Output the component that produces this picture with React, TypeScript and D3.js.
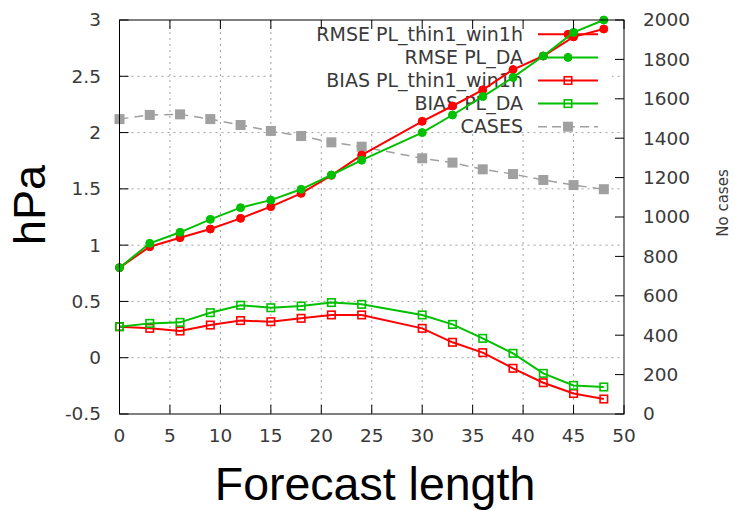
import React from "react";
import * as d3 from "d3";

const leadTimes = [0, 3, 6, 9, 12, 15, 18, 21, 24, 30, 33, 36, 39, 42, 45, 48];
const rmseThin = [0.8, 0.986, 1.066, 1.143, 1.238, 1.342, 1.46, 1.62, 1.8, 2.1, 2.236, 2.38, 2.56, 2.68, 2.85, 2.92];
const rmseDA = [0.8, 1.016, 1.114, 1.229, 1.333, 1.4, 1.496, 1.623, 1.755, 2.0, 2.156, 2.32, 2.49, 2.68, 2.89, 3.0];
const biasThin = [0.276, 0.261, 0.237, 0.29, 0.33, 0.32, 0.35, 0.38, 0.38, 0.261, 0.137, 0.045, -0.094, -0.222, -0.318, -0.367];
const biasDA = [0.276, 0.305, 0.314, 0.4, 0.466, 0.444, 0.459, 0.49, 0.474, 0.38, 0.296, 0.172, 0.039, -0.139, -0.246, -0.26];
const cases = [1497, 1518, 1521, 1497, 1467, 1437, 1411, 1379, 1357, 1298, 1276, 1242, 1218, 1188, 1162, 1141];

const xTicks = [0, 5, 10, 15, 20, 25, 30, 35, 40, 45, 50];
const yTicks = [-0.5, 0, 0.5, 1, 1.5, 2, 2.5, 3];
const y2Ticks = [0, 200, 400, 600, 800, 1000, 1200, 1400, 1600, 1800, 2000];

const legendLabels = ["RMSE PL_thin1_win1h", "RMSE PL_DA", "BIAS PL_thin1_win1h", "BIAS PL_DA", "CASES"];

const RED = "#ff0000";
const GREEN = "#00c000";
const GRAY = "#a0a0a0";
const TXT = "#3a3a3a";
const TICKFONT = "'DejaVu Sans', sans-serif";
const TITLEFONT = "'Liberation Sans', Arial, sans-serif";

export default function App() {
  const L = 119.5, R = 624, T = 20, B = 414;
  const x = d3.scaleLinear().domain([0, 50]).range([L, R]);
  const y = d3.scaleLinear().domain([-0.5, 3]).range([B, T]);
  const y2 = d3.scaleLinear().domain([0, 2000]).range([B, T]);
  const tl = 9;

  const line = (vals: number[], sc: d3.ScaleLinear<number, number>) =>
    d3.line<number>().x((_, i) => x(leadTimes[i])).y((v) => sc(v))(vals) || "";

  const circle = (cx: number, cy: number, color: string, k: string) => (
    <circle key={k} cx={cx} cy={cy} r={4} fill={color} stroke={color} strokeWidth={1} />
  );
  const square = (cx: number, cy: number, color: string, k: string) => (
    <rect key={k} x={cx - 3.75} y={cy - 3.75} width={7.5} height={7.5} fill="none" stroke={color} strokeWidth={1.6} />
  );
  const gsquare = (cx: number, cy: number, k: string) => (
    <rect key={k} x={cx - 5} y={cy - 5} width={10} height={10} fill={GRAY} />
  );

  const rowY = (i: number) => 34.3 + i * 23.1;
  const sx1 = 538, sx2 = 598, textR = 523;

  return (
    <svg width={734} height={510} style={{ position: "absolute", left: 0, top: 0, background: "#fff" }}>
      {/* grid */}
      <g stroke="#a0a0a0" strokeWidth={1} strokeDasharray="2,4">
        {xTicks.slice(1, -1).map((t) => (
          <line key={"gx" + t} x1={x(t)} x2={x(t)} y1={T} y2={B} />
        ))}
        {yTicks.slice(1, -1).map((t) => (
          <line key={"gy" + t} x1={L} x2={R} y1={y(t)} y2={y(t)} />
        ))}
      </g>

      {/* opaque legend box */}
      <rect x={275} y={T + 1} width={337} height={110} fill="#fff" />

      {/* legend */}
      <g fontFamily={TICKFONT} fontSize={19} fill={TXT}>
        {legendLabels.map((lab, i) => (
          <text key={lab} x={textR} y={rowY(i)} dy="0.35em" textAnchor="end">{lab}</text>
        ))}
      </g>
      <g>
        <line x1={sx1} x2={sx2} y1={rowY(0)} y2={rowY(0)} stroke={RED} strokeWidth={2} />
        {circle((sx1 + sx2) / 2, rowY(0), RED, "l0")}
        <line x1={sx1} x2={sx2} y1={rowY(1)} y2={rowY(1)} stroke={GREEN} strokeWidth={2} />
        {circle((sx1 + sx2) / 2, rowY(1), GREEN, "l1")}
        <line x1={sx1} x2={sx2} y1={rowY(2)} y2={rowY(2)} stroke={RED} strokeWidth={2} />
        {square((sx1 + sx2) / 2, rowY(2), RED, "l2")}
        <line x1={sx1} x2={sx2} y1={rowY(3)} y2={rowY(3)} stroke={GREEN} strokeWidth={2} />
        {square((sx1 + sx2) / 2, rowY(3), GREEN, "l3")}
        <line x1={sx1} x2={sx2} y1={rowY(4)} y2={rowY(4)} stroke={GRAY} strokeWidth={1.5} strokeDasharray="9,5" />
        {gsquare((sx1 + sx2) / 2, rowY(4), "l4")}
      </g>

      {/* cases */}
      <path d={line(cases, y2)} fill="none" stroke={GRAY} strokeWidth={1.5} strokeDasharray="9,6" />
      {cases.map((c, i) => gsquare(x(leadTimes[i]), y2(c), "c" + i))}

      {/* bias */}
      <path d={line(biasThin, y)} fill="none" stroke={RED} strokeWidth={2} />
      {biasThin.map((v, i) => square(x(leadTimes[i]), y(v), RED, "bt" + i))}
      <path d={line(biasDA, y)} fill="none" stroke={GREEN} strokeWidth={2} />
      {biasDA.map((v, i) => square(x(leadTimes[i]), y(v), GREEN, "bd" + i))}

      {/* rmse */}
      <path d={line(rmseThin, y)} fill="none" stroke={RED} strokeWidth={2} />
      {rmseThin.map((v, i) => circle(x(leadTimes[i]), y(v), RED, "rt" + i))}
      <path d={line(rmseDA, y)} fill="none" stroke={GREEN} strokeWidth={2} />
      {rmseDA.map((v, i) => circle(x(leadTimes[i]), y(v), GREEN, "rd" + i))}

      {/* border and ticks */}
      <rect x={L} y={T} width={R - L} height={B - T} fill="none" stroke="#000" strokeWidth={1} />
      <g stroke="#000" strokeWidth={1}>
        {xTicks.map((t) => (
          <g key={"xt" + t}>
            <line x1={x(t)} x2={x(t)} y1={B} y2={B - tl} />
            <line x1={x(t)} x2={x(t)} y1={T} y2={T + tl} />
          </g>
        ))}
        {yTicks.map((t) => (
          <g key={"yt" + t}>
            <line x1={L} x2={L + tl} y1={y(t)} y2={y(t)} />
          </g>
        ))}
        {y2Ticks.map((t) => (
          <line key={"y2t" + t} x1={R} x2={R - tl} y1={y2(t)} y2={y2(t)} />
        ))}
      </g>

      {/* tick labels */}
      <g fontFamily={TICKFONT} fontSize={18.5} fill={TXT}>
        {xTicks.map((t) => (
          <text key={"xl" + t} x={x(t)} y={442} textAnchor="middle">{t}</text>
        ))}
        {yTicks.map((t) => (
          <text key={"yl" + t} x={101} y={y(t)} dy="0.35em" textAnchor="end">{t}</text>
        ))}
        {y2Ticks.map((t) => (
          <text key={"y2l" + t} x={643} y={y2(t)} dy="0.35em" textAnchor="start">{t}</text>
        ))}
      </g>

      {/* titles */}
      <text x={375} y={500} textAnchor="middle" fontFamily={TITLEFONT} fontSize={46.5} fill="#000">Forecast length</text>
      <text transform="translate(45,205) rotate(-90)" textAnchor="middle" fontFamily={TITLEFONT} fontSize={45} fill="#000">hPa</text>
      <text transform="translate(728,203) rotate(-90)" textAnchor="middle" fontFamily={TICKFONT} fontSize={15} fill={TXT}>No cases</text>
    </svg>
  );
}
